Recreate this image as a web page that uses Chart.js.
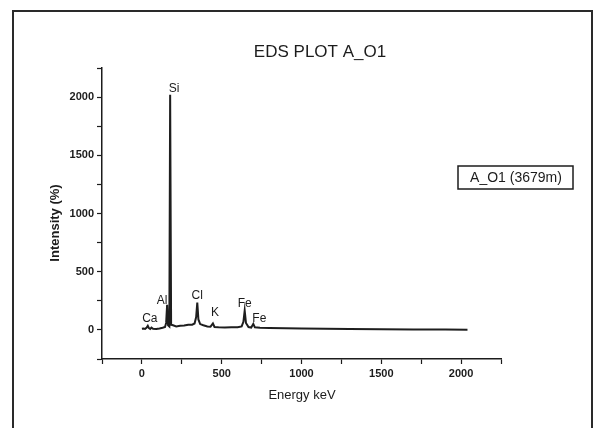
<!DOCTYPE html>
<html>
<head>
<meta charset="utf-8">
<title>EDS PLOT A_O1</title>
<script src="https://cdn.jsdelivr.net/npm/chart.js@4/dist/chart.umd.min.js"></script>
<style>
  html, body { margin: 0; padding: 0; background: #fff; }
  #wrap { width: 603px; height: 428px; position: relative; }
</style>
</head>
<body>
<div id="wrap"><canvas id="eds" width="603" height="428"></canvas></div>
<script>
// spectrum, energy (keV) vs intensity (%)
var energy = [0, 10, 20, 30, 37, 44, 52, 60, 70, 90, 110, 130, 145, 152, 158, 164, 172, 177, 183, 195,
  215, 240, 265, 290, 315, 330, 340, 347, 354, 365, 385, 410, 430, 445, 455, 480, 520, 560, 600, 625,
  636, 644, 652, 668, 685, 698, 708, 740, 800, 900, 1000, 1150, 1300, 1500, 1700, 1900, 2040];
var intensity = [10, 12, 8, 20, 35, 15, 8, 20, 10, 8, 12, 18, 25, 60, 215, 40, 30, 2020, 45, 40,
  30, 35, 38, 45, 45, 55, 110, 235, 90, 50, 40, 30, 28, 55, 25, 22, 20, 22, 22, 30,
  70, 165, 60, 25, 20, 52, 22, 18, 16, 14, 12, 9, 7, 5, 4, 3, 2];

// identified peaks
var peakNames = ['Ca', 'Al', 'Si', 'Cl', 'K', 'Fe', 'Fe'];
var peakEnergy = [37, 158, 177, 347, 445, 644, 698];

var xTicks = [0, 500, 1000, 1500, 2000];
var yTicks = [0, 500, 1000, 1500, 2000];

var seriesName = 'A_O1 (3679m)';
var plotTitle = 'EDS PLOT A_O1';
var xTitle = 'Energy keV';
var yTitle = 'Intensity (%)';

// label nudges relative to the peak top, px
var peakOffsets = [[2, -7], [-5, -4], [4, -6], [0, -7], [2, -11], [0, -7], [6, -5]];

var FONT = '"Liberation Sans", Arial, sans-serif';
var INK = '#1c1c1c';

var decor = {
  id: 'decor',
  afterDraw: function (chart) {
    var ctx = chart.ctx, xs = chart.scales.x, ys = chart.scales.y;
    ctx.save();
    // outer frame
    ctx.strokeStyle = '#2a2a2a';
    ctx.lineWidth = 2;
    ctx.strokeRect(13, 11, 579, 440);

    ctx.fillStyle = INK;
    ctx.textAlign = 'center';
    ctx.textBaseline = 'middle';
    ctx.font = '17px ' + FONT;
    ctx.fillText(plotTitle, 320, 52);

    ctx.font = '13px ' + FONT;
    ctx.fillText(xTitle, 302, 395);

    ctx.save();
    ctx.translate(55, 223);
    ctx.rotate(-Math.PI / 2);
    ctx.font = 'bold 13px ' + FONT;
    ctx.fillText(yTitle, 0, 0);
    ctx.restore();

    // legend box
    ctx.lineWidth = 1.5;
    ctx.strokeStyle = INK;
    ctx.strokeRect(458, 166, 115, 23);
    ctx.font = '14px ' + FONT;
    ctx.fillText(seriesName, 516, 178);

    // peak labels
    ctx.font = '12px ' + FONT;
    peakNames.forEach(function (name, i) {
      var k = energy.indexOf(peakEnergy[i]);
      var px = xs.getPixelForValue(peakEnergy[i]);
      var py = ys.getPixelForValue(intensity[k]);
      ctx.fillText(name, px + peakOffsets[i][0], py + peakOffsets[i][1]);
    });
    ctx.restore();
  }
};

function onlyMajor(list) {
  return function (v) { return list.indexOf(v) >= 0 ? String(v) : ''; };
}

new Chart(document.getElementById('eds').getContext('2d'), {
  type: 'line',
  data: {
    datasets: [{
      label: seriesName,
      data: energy.map(function (e, i) { return { x: e, y: intensity[i] }; }),
      borderColor: '#1e1e1e',
      borderWidth: 2,
      pointRadius: 0,
      tension: 0,
      fill: false
    }]
  },
  options: {
    responsive: false,
    animation: false,
    devicePixelRatio: 1,
    layout: { padding: { left: 0, top: 68, right: 102, bottom: 0 } },
    plugins: { legend: { display: false }, tooltip: { enabled: false }, title: { display: false } },
    scales: {
      x: {
        type: 'linear',
        min: -250, max: 2250,
        afterFit: function (s) { s.height = 69; },
        border: { display: true, color: INK, width: 1.5 },
        grid: { drawOnChartArea: false, drawTicks: true, tickLength: 5, color: INK, tickWidth: 1.2 },
        ticks: { stepSize: 250, autoSkip: false, maxRotation: 0, padding: 3, color: INK,
          font: { family: FONT, size: 11, weight: 'bold' }, callback: onlyMajor(xTicks) }
      },
      y: {
        type: 'linear',
        min: -250, max: 2250,
        afterFit: function (s) { s.width = 102; },
        border: { display: true, color: INK, width: 1.5 },
        grid: { drawOnChartArea: false, drawTicks: true, tickLength: 5, color: INK, tickWidth: 1.2 },
        ticks: { stepSize: 250, autoSkip: false, padding: 3, color: INK,
          font: { family: FONT, size: 11, weight: 'bold' }, callback: onlyMajor(yTicks) }
      }
    }
  },
  plugins: [decor]
});
</script>
</body>
</html>
